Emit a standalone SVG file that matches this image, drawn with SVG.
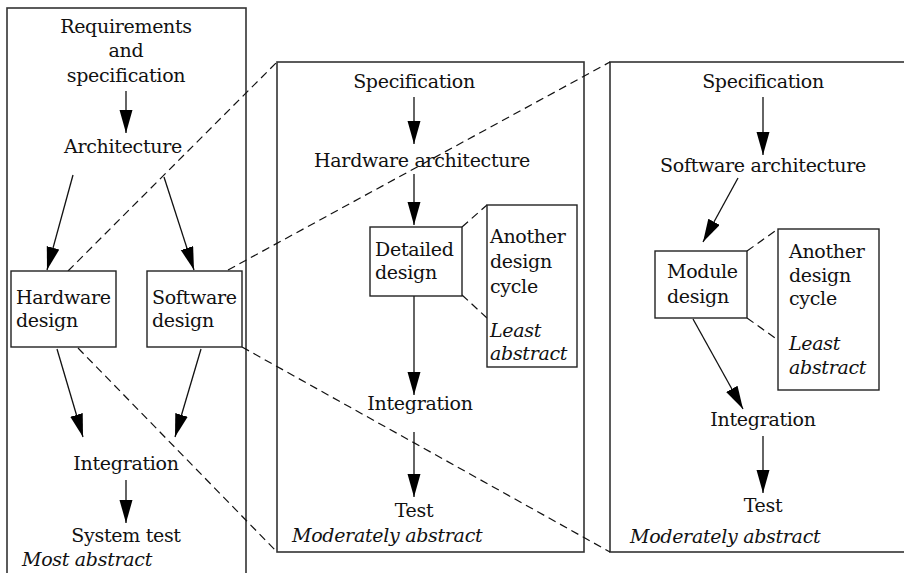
<svg xmlns="http://www.w3.org/2000/svg" width="904" height="573" viewBox="0 0 904 573">
<style>
text{font-family:"DejaVu Serif","Liberation Serif",serif;font-size:19px;letter-spacing:-0.3px;fill:#111}
.c{text-anchor:middle}
.i{font-style:italic}
.panel{fill:none;stroke:#333;stroke-width:1.6}
.box{fill:#fff;stroke:#222;stroke-width:1.4}
.arr{stroke:#111;stroke-width:1.3;fill:none;marker-end:url(#ah)}
.dash{stroke:#111;stroke-width:1.2;fill:none;stroke-dasharray:8,5}
</style>
<defs>
<marker id="ah" markerUnits="userSpaceOnUse" markerWidth="23" markerHeight="14" refX="23" refY="6.5" orient="auto">
<path d="M0,0 L23,6.5 L0,13 z" fill="#000"/>
</marker>
</defs>
<rect x="0" y="0" width="904" height="573" fill="#fff"/>
<g id="panels">
<rect id="panel-system" class="panel" x="7" y="8" width="239" height="620"/>
<rect id="panel-hardware" class="panel" x="277" y="62" width="307" height="490"/>
<rect id="panel-software" class="panel" x="610" y="62" width="400" height="490"/>
</g>
<g id="connectors">
<line class="arr" x1="126" y1="91" x2="126" y2="133"/>
<line class="arr" x1="73" y1="175" x2="47" y2="270"/>
<line class="arr" x1="164" y1="177" x2="194" y2="270"/>
<line class="arr" x1="57" y1="349" x2="83" y2="437"/>
<line class="arr" x1="201" y1="349" x2="175" y2="437"/>
<line class="arr" x1="126" y1="480" x2="126" y2="523"/>
<line class="arr" x1="414" y1="97" x2="414" y2="144"/>
<line class="arr" x1="414" y1="174" x2="414" y2="225"/>
<line class="arr" x1="414" y1="296" x2="414" y2="395"/>
<line class="arr" x1="414" y1="432" x2="414" y2="497"/>
<line class="arr" x1="763" y1="97" x2="763" y2="155"/>
<line class="arr" x1="738" y1="178" x2="703" y2="242"/>
<line class="arr" x1="693" y1="319" x2="743" y2="409"/>
<line class="arr" x1="763" y1="436" x2="763" y2="493"/>
<line class="dash" x1="68" y1="271" x2="277" y2="62"/>
<line class="dash" x1="78" y1="348" x2="277" y2="552"/>
<line class="dash" x1="228" y1="270" x2="610" y2="62"/>
<line class="dash" x1="242" y1="347" x2="610" y2="552"/>
<line class="dash" x1="462" y1="227" x2="487" y2="205"/>
<line class="dash" x1="462" y1="295" x2="487" y2="318"/>
<line class="dash" x1="747" y1="251" x2="778" y2="229"/>
<line class="dash" x1="747" y1="318" x2="778" y2="340"/>
</g>
<g id="n-requirements"><text class="c" x="126" y="33">Requirements</text><text class="c" x="126" y="57">and</text><text class="c" x="126" y="82">specification</text></g>
<g id="n-architecture"><text class="c" x="123" y="153">Architecture</text></g>
<g id="n-hardware-design"><rect class="box" x="11" y="271" width="105" height="76"/><text x="16" y="304">Hardware</text><text x="16" y="327">design</text></g>
<g id="n-software-design"><rect class="box" x="147" y="271" width="95" height="76"/><text x="152" y="304">Software</text><text x="152" y="327">design</text></g>
<g id="n-integration"><text class="c" x="126" y="470">Integration</text></g>
<g id="n-system-test"><text class="c" x="126" y="542">System test</text></g>
<g id="n-most-abstract"><text class="i" x="22" y="566">Most abstract</text></g>
<g id="n-hw-spec"><text class="c" x="414" y="88">Specification</text></g>
<g id="n-hw-arch"><text class="c" x="422" y="167">Hardware architecture</text></g>
<g id="n-detailed-design"><rect class="box" x="370" y="227" width="92" height="69"/><text x="375" y="256">Detailed</text><text x="375" y="279">design</text></g>
<g id="n-hw-another"><rect class="box" x="487" y="205" width="90" height="162"/><text x="490" y="243">Another</text><text x="490" y="268">design</text><text x="490" y="293">cycle</text><text class="i" x="490" y="337">Least</text><text class="i" x="490" y="360">abstract</text></g>
<g id="n-hw-integration"><text class="c" x="420" y="410">Integration</text></g>
<g id="n-hw-test"><text class="c" x="414" y="517">Test</text></g>
<g id="n-hw-moderate"><text class="i" x="292" y="542">Moderately abstract</text></g>
<g id="n-sw-spec"><text class="c" x="763" y="88">Specification</text></g>
<g id="n-sw-arch"><text class="c" x="763" y="172">Software architecture</text></g>
<g id="n-module-design"><rect class="box" x="655" y="251" width="92" height="67"/><text x="667" y="278">Module</text><text x="667" y="303">design</text></g>
<g id="n-sw-another"><rect class="box" x="778" y="229" width="101" height="161"/><text x="789" y="258">Another</text><text x="789" y="282">design</text><text x="789" y="305">cycle</text><text class="i" x="789" y="350">Least</text><text class="i" x="789" y="374">abstract</text></g>
<g id="n-sw-integration"><text class="c" x="763" y="426">Integration</text></g>
<g id="n-sw-test"><text class="c" x="763" y="512">Test</text></g>
<g id="n-sw-moderate"><text class="i" x="630" y="543">Moderately abstract</text></g>
</svg>
